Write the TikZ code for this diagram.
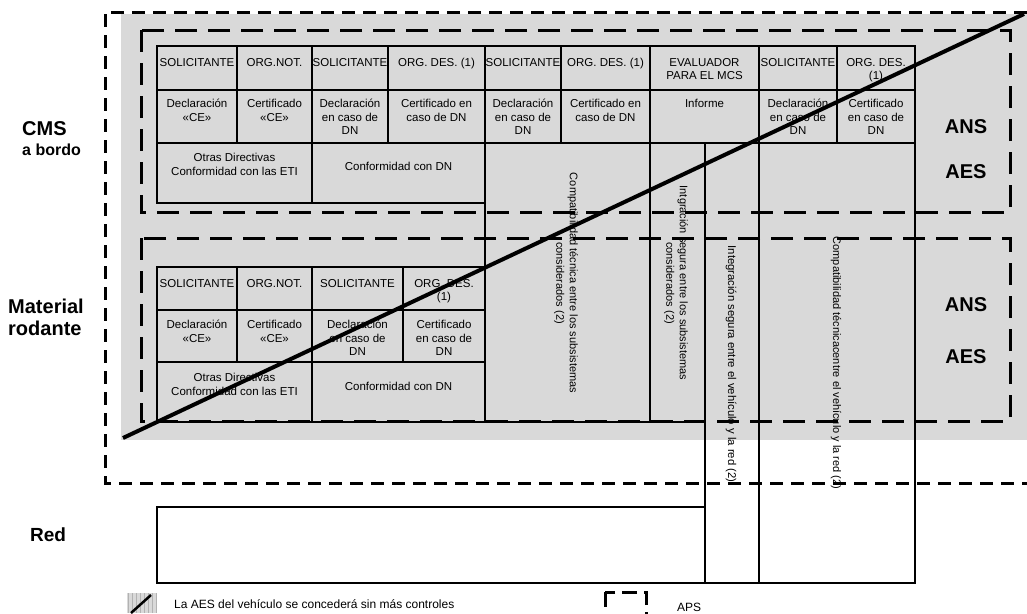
\documentclass[tikz,border=0pt]{standalone}
\usepackage{fontspec}
\setmainfont{Liberation Sans}
\definecolor{fondo}{RGB}{217,217,217}
\tikzset{
  celda/.style={draw, line width=1.3pt},
  txt/.style={font=\fontsize{11.5}{13.5}\selectfont, align=center, inner sep=0pt, anchor=north},
  vert/.style={font=\fontsize{11}{13.5}\selectfont, align=center, inner sep=0pt, rotate=-90},
  apsline/.style={line width=3pt, dash pattern=on 13pt off 8pt},
  ansline/.style={line width=3pt, dash pattern=on 22pt off 11pt},
  etiq/.style={font=\fontsize{20}{22}\selectfont\bfseries, inner sep=0pt},
  leyenda/.style={anchor=base west, inner sep=0pt, font=\fontsize{12}{14}\selectfont},
}
\begin{document}
\begin{tikzpicture}[x=1pt,y=-1pt]
\useasboundingbox (0,0) rectangle (1027,613);
% fondo gris
\fill[fondo] (121,14) rectangle (1027,440);

% CMS a bordo
\foreach \xa/\xb/\lab [count=\i] in {157/237/SOLICITANTE, 237/312/ORG.NOT., 312/388/SOLICITANTE, 388/485/{ORG. DES. (1)}, 485/561/SOLICITANTE, 561/650/{ORG. DES. (1)}, 650/759/{EVALUADOR\\PARA EL MCS}, 759/837/SOLICITANTE, 837/915/{ORG. DES.\\(1)}}{
  \draw[celda] (\xa,46) rectangle (\xb,90);
  \node[txt] (cmsA\i) at ({(\xa+\xb)/2},58) {\lab};
}
\foreach \xa/\xb/\lab [count=\i] in {157/237/{Declaración\\«CE»}, 237/312/{Certificado\\«CE»}, 312/388/{Declaración\\en caso de\\DN}, 388/485/{Certificado en\\caso de DN}, 485/561/{Declaración\\en caso de\\DN}, 561/650/{Certificado en\\caso de DN}, 650/759/Informe, 759/837/{Declaración\\en caso de\\DN}, 837/915/{Certificado\\en caso de\\DN}}{
  \draw[celda] (\xa,90) rectangle (\xb,143);
  \node[txt] (cmsB\i) at ({(\xa+\xb)/2},99) {\lab};
}
\draw[celda] (157,143) rectangle (312,203);
\node[txt] (cmsC1) at (234.5,153) {Otras Directivas\\Conformidad con las ETI};
\draw[celda] (312,143) rectangle (485,203);
\node[txt] (cmsC2) at (398.5,162) {Conformidad con DN};

% material rodante
\foreach \xa/\xb/\lab [count=\i] in {157/237/SOLICITANTE, 237/312/ORG.NOT., 312/403/SOLICITANTE, 403/485/{ORG. DES.\\(1)}}{
  \draw[celda] (\xa,267) rectangle (\xb,310);
  \node[txt] (mrA\i) at ({(\xa+\xb)/2},279) {\lab};
}
\foreach \xa/\xb/\lab [count=\i] in {157/237/{Declaración\\«CE»}, 237/312/{Certificado\\«CE»}, 312/403/{Declaración\\en caso de\\DN}, 403/485/{Certificado\\en caso de\\DN}}{
  \draw[celda] (\xa,310) rectangle (\xb,362);
  \node[txt] (mrB\i) at ({(\xa+\xb)/2},320) {\lab};
}
\draw[celda] (157,362) rectangle (312,422);
\node[txt] (mrC1) at (234.5,373) {Otras Directivas\\Conformidad con las ETI};
\draw[celda] (312,362) rectangle (485,422);
\node[txt] (mrC2) at (398.5,382) {Conformidad con DN};

% columnas largas y red
\draw[celda] (485,143) rectangle (650,422);
\draw[celda] (650,143) rectangle (705,422);
\draw[celda] (705,143) rectangle (759,583);
\draw[celda] (759,143) rectangle (915,583);
\draw[celda] (157,507) rectangle (705,583);
\node[vert] (compSub) at (566,283) {Compatibilidad técnica entre los subsistemas\\considerados (2)};
\node[vert] (intSub) at (676,283) {Intgración segura entre los subsistemas\\considerados (2)};
\node[vert, font=\fontsize{11.3}{13.5}\selectfont] (intRed) at (731,364) {Integración segura entre el vehículo y la red (2)};
\node[vert] (compRed) at (836,363) {Compatibilidad técnicacentre el vehículo y la red (2)};

% recuadros discontinuos
\draw[ansline] (141,30) rectangle (1010,212);
\draw[ansline] (141,238) rectangle (1010,421);
\draw[apsline] (1027,12) -- (105,12) -- (105,483) -- (1027,483);

% diagonal
\draw[line width=4pt] (123,438) -- (1024,14);

% etiquetas
\node[etiq, anchor=west] (cms) at (22,129) {CMS};
\node[anchor=base west, inner sep=0pt, font=\fontsize{16}{18}\selectfont\bfseries] (bordo) at (22,155) {a bordo};
\node[etiq, anchor=base west] (mat) at (8,313) {Material};
\node[etiq, anchor=base west] (rod) at (8,335) {rodante};
\node[anchor=base west, inner sep=0pt, font=\fontsize{19}{21}\selectfont\bfseries] (red) at (30,541) {Red};
\node[etiq] (ans1) at (966,127) {ANS};
\node[etiq] (aes1) at (966,172) {AES};
\node[etiq] (ans2) at (966,305) {ANS};
\node[etiq] (aes2) at (966,357) {AES};

% leyenda
\fill[fondo] (127,593) rectangle (157,613);
\draw[gray!60, line width=0.3pt, step=4] (127,593) grid (157,613);
\draw[line width=2.5pt] (131,613) -- (151,595);
\node[leyenda] (leyAES) at (174,608) {La AES del vehículo se concederá sin más controles};
\draw[line width=3pt, dash pattern=on 15pt off 7pt] (605,592) rectangle (646,622);
\node[leyenda] (leyAPS) at (677,611) {APS};
\end{tikzpicture}
\end{document}
